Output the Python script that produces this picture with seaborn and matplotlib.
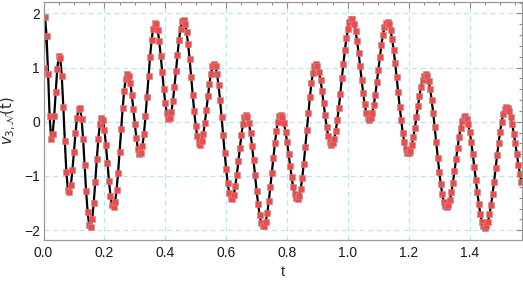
"""
Sampled signal v_3,N(t) on [0, pi/2]: black line with red square markers,
Mathematica-like frame (inward ticks on all sides, dashed grid).
"""
import matplotlib

matplotlib.use("Agg")
import matplotlib.pyplot as plt
import numpy as np
import pandas as pd
import seaborn as sns
from matplotlib.ticker import MultipleLocator

T_START = 0.0
T_STEP = 0.005

# values of v, in four blocks of t
v_block_1 = [  # t = 0.000 .. 0.395
    1.00, 1.93, 1.58, 0.89, 0.11, -0.31, -0.23, 0.10, 0.55, 0.97,
    1.21, 1.17, 0.84, 0.28, -0.36, -0.92, -1.25, -1.30, -1.16, -0.89,
    -0.55, -0.21, 0.07, 0.24, 0.25, 0.06, -0.31, -0.79, -1.28, -1.67,
    -1.91, -1.94, -1.79, -1.49, -1.11, -0.69, -0.32, -0.05, 0.07, 0.03,
    -0.15, -0.42, -0.76, -1.09, -1.36, -1.54, -1.58, -1.48, -1.26, -0.94,
    -0.55, -0.14, 0.25, 0.57, 0.79, 0.89, 0.85, 0.72, 0.50, 0.23,
    -0.05, -0.30, -0.50, -0.59, -0.58, -0.45, -0.22, 0.10, 0.46, 0.84,
    1.20, 1.50, 1.72, 1.82, 1.81, 1.69, 1.49, 1.22, 0.91, 0.61,
]
v_block_2 = [  # t = 0.400 .. 0.795
    0.34, 0.16, 0.06, 0.07, 0.18, 0.38, 0.64, 0.93, 1.24, 1.51,
    1.72, 1.85, 1.88, 1.81, 1.66, 1.43, 1.15, 0.83, 0.50, 0.19,
    -0.07, -0.27, -0.39, -0.42, -0.36, -0.22, -0.02, 0.22, 0.47, 0.70,
    0.89, 1.02, 1.06, 1.02, 0.88, 0.67, 0.40, 0.08, -0.25, -0.58,
    -0.88, -1.13, -1.32, -1.41, -1.42, -1.35, -1.19, -0.98, -0.73, -0.48,
    -0.24, -0.04, 0.08, 0.12, 0.08, -0.03, -0.21, -0.44, -0.71, -0.99,
    -1.27, -1.52, -1.72, -1.86, -1.93, -1.93, -1.84, -1.69, -1.47, -1.21,
    -0.94, -0.66, -0.40, -0.17, 0.00, 0.10, 0.12, 0.08, -0.03, -0.18,
]
v_block_3 = [  # t = 0.800 .. 1.195
    -0.37, -0.59, -0.81, -1.02, -1.20, -1.33, -1.41, -1.43, -1.37, -1.24,
    -1.03, -0.77, -0.47, -0.15, 0.16, 0.45, 0.71, 0.90, 1.02, 1.06,
    1.02, 0.92, 0.77, 0.57, 0.34, 0.12, -0.09, -0.26, -0.37, -0.42,
    -0.40, -0.32, -0.17, 0.03, 0.26, 0.52, 0.80, 1.07, 1.32, 1.54,
    1.71, 1.84, 1.90, 1.89, 1.81, 1.68, 1.49, 1.27, 1.02, 0.77,
    0.53, 0.33, 0.17, 0.07, 0.04, 0.07, 0.16, 0.31, 0.50, 0.73,
    0.96, 1.20, 1.42, 1.60, 1.74, 1.82, 1.84, 1.80, 1.69, 1.53,
    1.33, 1.09, 0.82, 0.55, 0.28, 0.03, -0.20, -0.37, -0.50, -0.57,
]
v_block_4 = [  # t = 1.200 .. 1.570
    -0.58, -0.53, -0.43, -0.28, -0.11, 0.09, 0.29, 0.48, 0.65, 0.77,
    0.85, 0.88, 0.85, 0.75, 0.61, 0.40, 0.17, -0.10, -0.38, -0.66,
    -0.92, -1.15, -1.34, -1.48, -1.56, -1.58, -1.54, -1.45, -1.30, -1.12,
    -0.91, -0.69, -0.48, -0.28, -0.12, 0.01, 0.08, 0.10, 0.06, -0.04,
    -0.18, -0.37, -0.59, -0.83, -1.07, -1.30, -1.52, -1.70, -1.84, -1.92,
    -1.95, -1.92, -1.84, -1.71, -1.54, -1.34, -1.11, -0.86, -0.62, -0.39,
    -0.18, 0.00, 0.14, 0.23, 0.27, 0.25, 0.19, 0.09, -0.05, -0.22,
    -0.40, -0.60, -0.79, -0.96, -1.11,
]

X_LABEL = "t"
Y_LABEL = r"$v_{3,\mathcal{N}}(\mathrm{t})$"


def build_data():
    v = np.concatenate([v_block_1, v_block_2, v_block_3, v_block_4])
    t = T_START + T_STEP * np.arange(len(v))
    return pd.DataFrame({"t": t, "v": v})


def style_axes(ax):
    ax.set_xlim(0, np.pi / 2)
    ax.set_ylim(-2.18, 2.21)
    ax.xaxis.set_major_locator(MultipleLocator(0.2))
    ax.xaxis.set_minor_locator(MultipleLocator(0.05))
    ax.yaxis.set_major_locator(MultipleLocator(1))
    ax.yaxis.set_minor_locator(MultipleLocator(0.2))
    ax.tick_params(
        which="both", direction="in", top=True, right=True,
        color="#8c8c8c", width=0.8, labelsize=10, labelcolor="#1a1a1a",
    )
    ax.tick_params(which="major", length=4.5)
    ax.tick_params(which="minor", length=2.5)
    ax.tick_params(axis="x", pad=4)
    ax.tick_params(axis="y", pad=2.5)
    for spine in ax.spines.values():
        spine.set_color("#9a9a9a")
        spine.set_linewidth(0.9)
    ax.grid(True, which="major", color="#bde5ec", linestyle=(0, (4, 3)), linewidth=0.9)
    ax.set_axisbelow(True)


def plot_signal(data, figure_path):
    sns.set_theme(style="white")
    plt.rcParams["font.family"] = ["Liberation Sans", "DejaVu Sans"]
    plt.rcParams["mathtext.fontset"] = "dejavusans"

    fig, ax = plt.subplots(figsize=(5.23, 2.81), dpi=100)
    fig.subplots_adjust(left=0.0832, right=0.9975, top=0.993, bottom=0.146)

    sns.lineplot(
        data=data, x="t", y="v", ax=ax,
        color="black", linewidth=1.6,
        marker="s", markersize=4.0,
        markerfacecolor="#f24a4a", markeredgecolor="#b89090", markeredgewidth=0.4,
    )
    style_axes(ax)
    ax.set_xlabel(X_LABEL, fontsize=10.5, labelpad=4)
    ax.set_ylabel(Y_LABEL, fontsize=10.5, labelpad=4)

    fig.savefig(figure_path, dpi=100)


if __name__ == "__main__":
    plot_signal(build_data(), "out.png")
